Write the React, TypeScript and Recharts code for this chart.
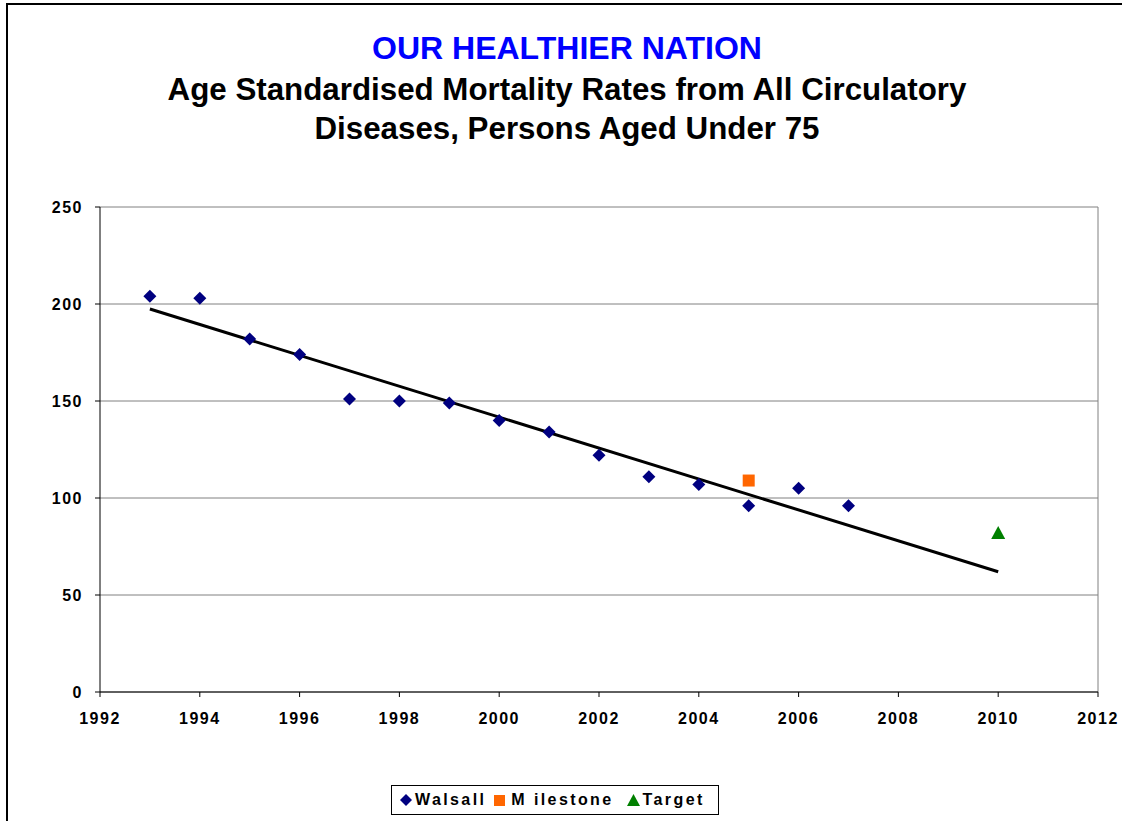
import React from "react";
import {
  CartesianGrid,
  ReferenceLine,
  Scatter,
  ScatterChart,
  XAxis,
  YAxis,
} from "recharts";

const years = [1993, 1994, 1995, 1996, 1997, 1998, 1999, 2000, 2001, 2002, 2003, 2004, 2005, 2006, 2007];
const walsall = [204, 203, 182, 174, 151, 150, 149, 140, 134, 122, 111, 107, 96, 105, 96];

const milestoneYears = [2005];
const milestoneValues = [109];

const targetYears = [2010];
const targetValues = [82];

// linear trend drawn in the original, read at its two ends
const trendYears = [1993, 2010];
const trendValues = [197.4, 62];

const xTicks = [1992, 1994, 1996, 1998, 2000, 2002, 2004, 2006, 2008, 2010, 2012];
const yTicks = [0, 50, 100, 150, 200, 250];

const walsallData = years.map((year, i) => ({ year, value: walsall[i] }));
const milestoneData = milestoneYears.map((year, i) => ({ year, value: milestoneValues[i] }));
const targetData = targetYears.map((year, i) => ({ year, value: targetValues[i] }));
const trendData = trendYears.map((year, i) => ({ year, value: trendValues[i] }));

const NAVY = "#000080";
const ORANGE = "#FF6600";
const GREEN = "#008000";
const FONT = "'Liberation Sans', Arial, sans-serif";

const tickStyle = {
  fontSize: 16,
  fontWeight: 700,
  fill: "#000",
  fontFamily: FONT,
  letterSpacing: 1.5,
};

const Diamond = (props: any) => {
  const { cx, cy } = props;
  if (cx == null || cy == null) return null;
  const r = 6.5;
  return (
    <polygon
      points={`${cx},${cy - r} ${cx + r},${cy} ${cx},${cy + r} ${cx - r},${cy}`}
      fill={NAVY}
    />
  );
};

const Square = (props: any) => {
  const { cx, cy } = props;
  if (cx == null || cy == null) return null;
  return <rect x={cx - 6} y={cy - 6} width={12} height={12} fill={ORANGE} />;
};

const Triangle = (props: any) => {
  const { cx, cy } = props;
  if (cx == null || cy == null) return null;
  return (
    <polygon
      points={`${cx},${cy - 7} ${cx + 7},${cy + 6} ${cx - 7},${cy + 6}`}
      fill={GREEN}
    />
  );
};

const NoDot = () => null;

const titleLine = (top: number, size: number, color: string, text: string) => (
  <div
    style={{
      position: "absolute",
      left: 0,
      top,
      width: 1134,
      textAlign: "center",
      fontWeight: 700,
      fontSize: size,
      lineHeight: "40px",
      color,
      whiteSpace: "nowrap",
    }}
  >
    {text}
  </div>
);

export default function App() {
  return (
    <div
      style={{
        position: "fixed",
        left: 0,
        top: 0,
        width: 1122,
        height: 821,
        overflow: "hidden",
        background: "#fff",
        fontFamily: FONT,
      }}
    >
      <div
        style={{
          position: "absolute",
          left: 6,
          top: 3,
          width: 1140,
          height: 840,
          border: "2px solid #000",
        }}
      />
      {titleLine(28, 32, "#0000FF", "OUR HEALTHIER NATION")}
      {titleLine(70, 31.3, "#000", "Age Standardised Mortality Rates from All Circulatory")}
      {titleLine(109, 31.3, "#000", "Diseases, Persons Aged Under 75")}

      <div style={{ position: "absolute", left: 0, top: 0 }}>
        <ScatterChart
          width={1122}
          height={760}
          margin={{ top: 207, right: 24, left: 20, bottom: 28 }}
        >
          <CartesianGrid vertical={false} stroke="#808080" strokeWidth={1} />
          <XAxis
            type="number"
            dataKey="year"
            domain={[1992, 2012]}
            ticks={xTicks}
            allowDecimals={false}
            height={40}
            stroke="#000"
            tickSize={5}
            tickMargin={16}
            tick={tickStyle}
          />
          <YAxis
            type="number"
            dataKey="value"
            domain={[0, 250]}
            ticks={yTicks}
            width={80}
            stroke="#000"
            tickSize={5}
            tickMargin={12}
            tick={tickStyle}
          />
          <ReferenceLine x={2012} stroke="#808080" strokeWidth={1} />
          <Scatter
            data={trendData}
            line={{ stroke: "#000", strokeWidth: 3 }}
            shape={NoDot}
            isAnimationActive={false}
          />
          <Scatter data={walsallData} shape={Diamond} isAnimationActive={false} />
          <Scatter data={milestoneData} shape={Square} isAnimationActive={false} />
          <Scatter data={targetData} shape={Triangle} isAnimationActive={false} />
        </ScatterChart>
      </div>

      <div
        style={{
          position: "absolute",
          left: 391,
          top: 785,
          width: 328,
          height: 30,
          border: "1px solid #000",
          display: "flex",
          alignItems: "center",
          paddingLeft: 8,
          boxSizing: "border-box",
          fontSize: 16,
          fontWeight: 700,
          letterSpacing: 2.4,
          color: "#000",
          whiteSpace: "nowrap",
        }}
      >
        <svg width={12} height={12} style={{ marginRight: 3 }}>
          <polygon points="6,0 12,6 6,12 0,6" fill={NAVY} />
        </svg>
        <span style={{ marginRight: 8 }}>Walsall</span>
        <svg width={11} height={11} style={{ marginRight: 6 }}>
          <rect x={0} y={0} width={11} height={11} fill={ORANGE} />
        </svg>
        <span style={{ marginRight: 13 }}>M ilestone</span>
        <svg width={13} height={12} style={{ marginRight: 3 }}>
          <polygon points="6.5,0 13,12 0,12" fill={GREEN} />
        </svg>
        <span>Target</span>
      </div>
    </div>
  );
}
